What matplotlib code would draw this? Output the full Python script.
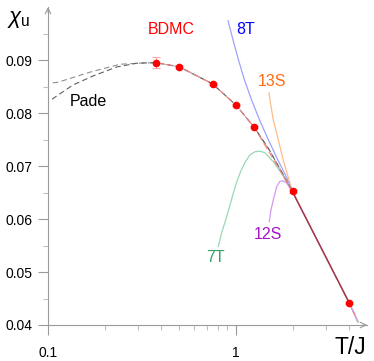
import matplotlib
matplotlib.use("Agg")
import matplotlib.pyplot as plt
from matplotlib.ticker import FixedLocator, NullFormatter, FixedFormatter

plt.rcParams["font.family"] = ["Liberation Sans", "DejaVu Sans"]
plt.rcParams["mathtext.fontset"] = "custom"
plt.rcParams["mathtext.rm"] = "Liberation Sans"
plt.rcParams["mathtext.it"] = "Liberation Sans:italic"

# --- datos ---
bdmc_T = [0.375, 0.5, 0.75, 1.0, 1.25, 2.0, 4.0]
bdmc_chi = [0.0895, 0.0887, 0.0855, 0.0815, 0.0773, 0.0652, 0.0442]
bdmc_err = [0.0010, 0.0003, 0.0002, 0.0002, 0.0002, 0.0002, 0.0002]

pade1_T = [0.106, 0.113, 0.167, 0.242, 0.308, 0.375, 0.5, 0.75, 1.0, 1.25, 1.5, 2.0]
pade1_chi = [0.0857, 0.0858, 0.0877, 0.0892, 0.0894, 0.0895, 0.0887, 0.0855, 0.0815, 0.0773, 0.0731, 0.0652]
pade2_T = [0.105, 0.136, 0.174, 0.233, 0.298, 0.375, 0.5, 0.75, 1.0, 1.25, 1.5, 2.0]
pade2_chi = [0.0826, 0.0853, 0.0870, 0.0887, 0.0894, 0.0895, 0.0887, 0.0855, 0.0815, 0.0773, 0.0731, 0.0652]

# tramo comun de alta temperatura
alta_T = [2.0, 4.0, 4.45]
alta_chi = [0.0651, 0.0442, 0.0406]

t8_T = [0.907, 0.964, 1.031, 1.110, 1.209, 1.334, 1.489, 1.672, 1.867] + alta_T
t8_chi = [0.0974, 0.0938, 0.0900, 0.0862, 0.0825, 0.0787, 0.0749, 0.0711, 0.0677] + alta_chi

s13_T = [1.498, 1.516, 1.578, 1.679, 1.784, 1.913] + alta_T
s13_chi = [0.0838, 0.0825, 0.0787, 0.0749, 0.0711, 0.0674] + alta_chi

t7_T = [0.805, 0.842, 0.892, 0.949, 1.0, 1.057, 1.117, 1.187, 1.262, 1.342, 1.426,
        1.579, 1.75, 1.897] + alta_T
t7_chi = [0.0548, 0.0576, 0.0604, 0.0638, 0.0666, 0.0689, 0.0707, 0.0721, 0.0727, 0.0728, 0.0725,
          0.0708, 0.0686, 0.0664] + alta_chi

s12_T = [1.503, 1.535, 1.579, 1.646, 1.714, 1.778, 1.862, 1.977] + alta_T
s12_chi = [0.0595, 0.0617, 0.0636, 0.0661, 0.0671, 0.0672, 0.0668, 0.0653] + alta_chi

etiquetas_x = ["0.1", "1"]
etiquetas_y = ["0.04", "0.05", "0.06", "0.07", "0.08", "0.09"]

gris = "#9a9a9a"

fig = plt.figure(figsize=(3.74, 3.61), dpi=100)
ax = fig.add_axes([48 / 374, 1 - 325 / 361, 319.4 / 374, 318 / 361])
ax.set_xscale("log")
ax.set_xlim(0.1, 5)
ax.set_ylim(0.04, 0.10)

# curvas de series
ax.plot(t8_T, t8_chi, color="#a0a0ff", lw=0.9)
ax.plot(s13_T, s13_chi, color="#ffbb8a", lw=0.9)
ax.plot(t7_T, t7_chi, color="#99d8b4", lw=0.9)
ax.plot(s12_T, s12_chi, color="#d29af0", lw=0.9)

# Pade
ax.plot(pade1_T, pade1_chi, color="#909090", lw=0.8, dashes=(5, 3))
ax.plot(pade2_T, pade2_chi, color="#606060", lw=0.8, dashes=(5, 3))

# BDMC
ax.plot(bdmc_T[:6] + [4.3], bdmc_chi[:6] + [0.0419], color="#ff8080", lw=0.8, dashes=(6, 3))
ax.plot(alta_T[:2], alta_chi[:2], color="#a03040", lw=0.9)
ax.errorbar(bdmc_T, bdmc_chi, yerr=bdmc_err, fmt="o", color="#ff0000", ms=4.5,
            ecolor="#ffaaaa", elinewidth=0.8, capsize=3, capthick=0.8, zorder=5)

# etiquetas
ax.text(0.451, 0.0957, "BDMC", color="#ff0000", fontsize=11.5, ha="center", va="center")
ax.text(1.13, 0.0958, "8T", color="#0000ff", fontsize=11.5, ha="center", va="center")
ax.text(1.554, 0.0860, "13S", color="#ff6a10", fontsize=11.5, ha="center", va="center")
ax.text(0.773, 0.0528, "7T", color="#33a066", fontsize=11.5, ha="center", va="center")
ax.text(1.48, 0.0570, "12S", color="#aa10cc", fontsize=11.5, ha="center", va="center")
ax.text(0.163, 0.0821, "Pade", color="black", fontsize=11.5, ha="center", va="center")

fig.text(7 / 374, 1 - 20 / 361, r"$\chi_\mathrm{u}$", fontsize=16, va="center", ha="left")
fig.text(350 / 374, 1 - 348 / 361, "T/J", fontsize=16.5, va="center", ha="center")

# ejes
for lado in ["top", "right"]:
    ax.spines[lado].set_visible(False)
for lado in ["left", "bottom"]:
    ax.spines[lado].set_color(gris)
    ax.spines[lado].set_linewidth(0.8)

ax.xaxis.set_major_locator(FixedLocator([0.1, 1]))
ax.xaxis.set_major_formatter(FixedFormatter(etiquetas_x))
ax.xaxis.set_minor_locator(FixedLocator([0.2, 0.3, 0.4, 0.5, 0.6, 0.7, 0.8, 0.9, 2, 3, 4]))
ax.xaxis.set_minor_formatter(NullFormatter())
ax.yaxis.set_major_locator(FixedLocator([0.04, 0.05, 0.06, 0.07, 0.08, 0.09]))
ax.yaxis.set_major_formatter(FixedFormatter(etiquetas_y))
ax.yaxis.set_minor_locator(FixedLocator([0.045, 0.055, 0.065, 0.075, 0.085, 0.095]))

ax.tick_params(which="major", length=7, width=0.8, color=gris, labelsize=10)
ax.tick_params(which="minor", length=3.5, width=0.8, color="#c0c0c0")
ax.tick_params(axis="x", which="major", pad=8)
ax.tick_params(axis="y", which="major", pad=4)

# flechas de los ejes
ax.annotate("", xy=(5.15, 0.04), xytext=(4.6, 0.04), xycoords="data",
            arrowprops=dict(arrowstyle="->", color=gris, lw=0.8), annotation_clip=False)
ax.annotate("", xy=(0.1, 0.1005), xytext=(0.1, 0.0985), xycoords="data",
            arrowprops=dict(arrowstyle="->", color=gris, lw=0.8), annotation_clip=False)

fig.savefig("out.png", dpi=100)
